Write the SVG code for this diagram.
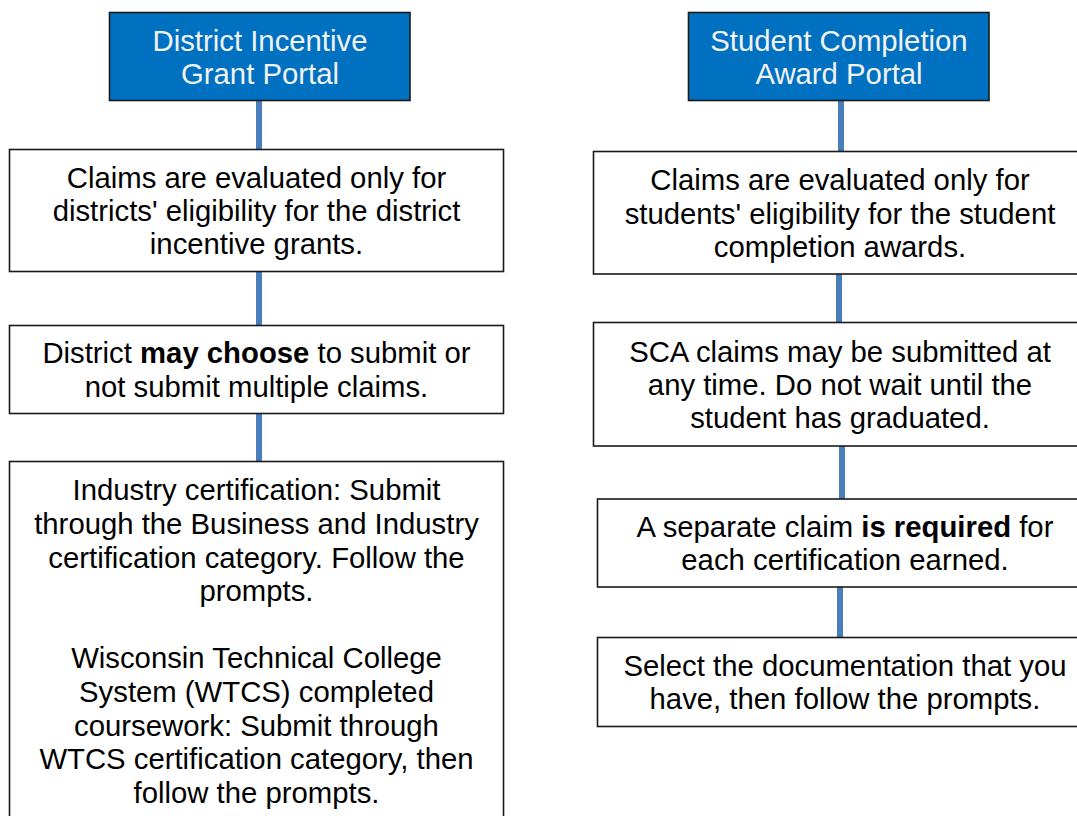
<svg xmlns="http://www.w3.org/2000/svg" width="1077" height="816" viewBox="0 0 1077 816">
<style>
.box{fill:#ffffff;stroke:#1a1a1a;stroke-width:1.6}
.hdr{fill:#0070c0;stroke:#1a1a1a;stroke-width:1.6}
.t{font-family:"Liberation Sans",Arial,sans-serif;font-size:29.3px;fill:#000;text-anchor:middle}
.th{font-family:"Liberation Sans",Arial,sans-serif;font-size:29.3px;fill:#f2f2f2;text-anchor:middle}
.b{font-weight:bold}
.c{stroke:#4a7ebb;stroke-width:6;fill:none}
</style>
<rect width="1077" height="816" fill="#ffffff"/>
<g id="connectors">
<line class="c" x1="259" y1="101" x2="259" y2="149"/>
<line class="c" x1="259" y1="272" x2="259" y2="325"/>
<line class="c" x1="259" y1="414" x2="259" y2="462"/>
<line class="c" x1="841" y1="101" x2="841" y2="151"/>
<line class="c" x1="839" y1="274" x2="839" y2="322"/>
<line class="c" x1="842" y1="446" x2="842" y2="499"/>
<line class="c" x1="840" y1="587" x2="840" y2="637"/>
</g>
<g id="dig-portal">
<rect class="hdr" x="109.5" y="12.5" width="300.5" height="88"/>
<text class="th" x="260" y="50.7">District Incentive</text>
<text class="th" x="260" y="84">Grant Portal</text>
</g>
<g id="dig-eval">
<rect class="box" x="9.5" y="149.5" width="494" height="122"/>
<text class="t" x="256.5" y="187.7">Claims are evaluated only for</text>
<text class="t" x="256.5" y="221">districts' eligibility for the district</text>
<text class="t" x="256.5" y="254.3">incentive grants.</text>
</g>
<g id="dig-multiple">
<rect class="box" x="9.5" y="325.5" width="494" height="88"/>
<text class="t" x="256.5" y="362.7">District <tspan class="b">may choose</tspan> to submit or</text>
<text class="t" x="256.5" y="396.7">not submit multiple claims.</text>
</g>
<g id="dig-submit">
<rect class="box" x="9.5" y="461.5" width="494" height="420"/>
<text class="t" x="256.5" y="500">Industry certification: Submit</text>
<text class="t" x="256.5" y="534">through the Business and Industry</text>
<text class="t" x="256.5" y="567.5">certification category. Follow the</text>
<text class="t" x="256.5" y="601">prompts.</text>
<text class="t" x="256.5" y="668.3">Wisconsin Technical College</text>
<text class="t" x="256.5" y="702.3">System (WTCS) completed</text>
<text class="t" x="256.5" y="736">coursework: Submit through</text>
<text class="t" x="256.5" y="769.3">WTCS certification category, then</text>
<text class="t" x="256.5" y="802.7">follow the prompts.</text>
</g>
<g id="sca-portal">
<rect class="hdr" x="688.5" y="12.5" width="300.5" height="88"/>
<text class="th" x="839" y="50.7">Student Completion</text>
<text class="th" x="839" y="84">Award Portal</text>
</g>
<g id="sca-eval">
<rect class="box" x="593.5" y="151.5" width="494" height="122.5"/>
<text class="t" x="840" y="190">Claims are evaluated only for</text>
<text class="t" x="840" y="223.5">students' eligibility for the student</text>
<text class="t" x="840" y="257">completion awards.</text>
</g>
<g id="sca-anytime">
<rect class="box" x="593.5" y="322.5" width="494" height="123.5"/>
<text class="t" x="840" y="361.7">SCA claims may be submitted at</text>
<text class="t" x="840" y="395">any time. Do not wait until the</text>
<text class="t" x="840" y="428.3">student has graduated.</text>
</g>
<g id="sca-separate">
<rect class="box" x="597.5" y="499" width="496" height="88"/>
<text class="t" x="845" y="536.7">A separate claim <tspan class="b">is required</tspan> for</text>
<text class="t" x="845" y="570">each certification earned.</text>
</g>
<g id="sca-documentation">
<rect class="box" x="597.5" y="637.5" width="496" height="89"/>
<text class="t" x="845" y="676">Select the documentation that you</text>
<text class="t" x="845" y="709.3">have, then follow the prompts.</text>
</g>
</svg>
